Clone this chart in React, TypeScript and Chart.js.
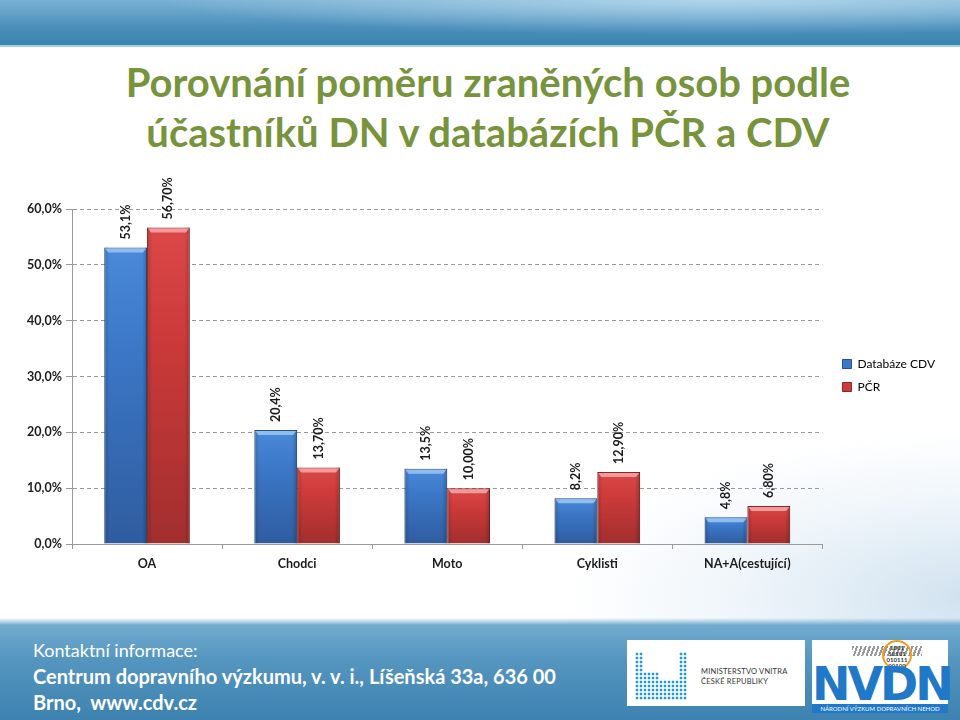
import React, { useEffect, useRef } from "react";
import { Chart, registerables } from "chart.js";

Chart.register(...registerables);

const categories = ["OA", "Chodci", "Moto", "Cyklisti", "NA+A(cestující)"];
const seriesNames = ["Databáze CDV", "PČR"];
const cdvValues = [53.1, 20.4, 13.5, 8.2, 4.8];
const pcrValues = [56.7, 13.7, 10.0, 12.9, 6.8];
const cdvLabels = ["53,1%", "20,4%", "13,5%", "8,2%", "4,8%"];
const pcrLabels = ["56,70%", "13,70%", "10,00%", "12,90%", "6,80%"];
const yMax = 60;
const yStep = 10;

const FONT = "Lato, 'Open Sans', sans-serif";

const palettes = [
  { top: "#4a8ad9", mid: "#3b77c6", bottom: "#2f5c9f", border: "#2a4f86", bevel: "#8fbdf0", solid: "#3b78c8" },
  { top: "#dc4848", mid: "#cc3a3a", bottom: "#a22e2e", border: "#8a2626", bevel: "#f29a9a", solid: "#cc3b3b" },
];

function gradientFor(idx: number) {
  return (c: any) => {
    const p = palettes[idx];
    const chart = c.chart;
    const y = chart.scales && chart.scales.y;
    if (!y || c.type !== "data") return p.solid;
    const top = y.getPixelForValue(c.raw);
    const bottom = y.getPixelForValue(0);
    if (!isFinite(top) || !isFinite(bottom) || bottom - top < 1) return p.solid;
    const g = chart.ctx.createLinearGradient(0, top, 0, bottom);
    g.addColorStop(0, p.top);
    g.addColorStop(0.35, p.mid);
    g.addColorStop(1, p.bottom);
    return g;
  };
}

const legendShift = {
  id: "legendShift",
  afterLayout(chart: any) {
    if (chart.legend) {
      chart.legend.left += 9;
      chart.legend.right += 9;
      chart.legend.top -= 29;
      chart.legend.bottom -= 29;
    }
  },
};

const barDecor = {
  id: "barDecor",
  afterDatasetsDraw(chart: any) {
    const ctx = chart.ctx;
    const labelSets = [cdvLabels, pcrLabels];
    chart.data.datasets.forEach((_: any, di: number) => {
      const meta = chart.getDatasetMeta(di);
      const p = palettes[di];
      meta.data.forEach((el: any, i: number) => {
        const { x, y, base, width } = el.getProps(["x", "y", "base", "width"], true);
        const l = x - width / 2;
        const r = x + width / 2;
        ctx.save();
        const sg = ctx.createLinearGradient(l, 0, r, 0);
        sg.addColorStop(0, "rgba(0,0,0,0.18)");
        sg.addColorStop(0.12, "rgba(0,0,0,0)");
        sg.addColorStop(0.88, "rgba(0,0,0,0)");
        sg.addColorStop(1, "rgba(0,0,0,0.22)");
        ctx.fillStyle = sg;
        ctx.fillRect(l, y, width, base - y);
        ctx.beginPath();
        ctx.moveTo(l + 1, y + 1);
        ctx.lineTo(r - 1, y + 1);
        ctx.lineTo(r - 4, y + 5);
        ctx.lineTo(l + 4, y + 5);
        ctx.closePath();
        ctx.fillStyle = p.bevel;
        ctx.fill();
        ctx.restore();

        ctx.save();
        ctx.translate(x, y - 8);
        ctx.rotate(-Math.PI / 2);
        ctx.font = `bold 12.5px ${FONT}`;
        ctx.fillStyle = "#1c1c1c";
        ctx.textAlign = "left";
        ctx.textBaseline = "middle";
        ctx.fillText(labelSets[di][i], 0, 0);
        ctx.restore();
      });
    });
  },
};

function ChartBox() {
  const ref = useRef<HTMLCanvasElement | null>(null);
  useEffect(() => {
    if (!ref.current) return;
    const chart = new Chart(ref.current, {
      type: "bar",
      data: {
        labels: categories,
        datasets: [
          {
            label: seriesNames[0],
            data: cdvValues,
            backgroundColor: gradientFor(0),
            borderColor: palettes[0].border,
            borderWidth: 1,
            categoryPercentage: 0.57,
            barPercentage: 1,
          },
          {
            label: seriesNames[1],
            data: pcrValues,
            backgroundColor: gradientFor(1),
            borderColor: palettes[1].border,
            borderWidth: 1,
            categoryPercentage: 0.57,
            barPercentage: 1,
          },
        ],
      },
      options: {
        animation: false,
        responsive: true,
        maintainAspectRatio: false,
        layout: { padding: { top: 39, right: 24, bottom: 0, left: 0 } },
        plugins: {
          tooltip: { enabled: false },
          title: { display: false },
          legend: {
            position: "right",
            align: "center",
            labels: {
              boxWidth: 9,
              boxHeight: 9,
              padding: 11,
              color: "#222",
              font: { family: FONT, size: 12 },
              generateLabels: () =>
                seriesNames.map((n, i) => ({
                  text: n,
                  fillStyle: palettes[i].solid,
                  strokeStyle: palettes[i].border,
                  lineWidth: 1,
                  datasetIndex: i,
                  hidden: false,
                })),
            },
          },
        },
        scales: {
          x: {
            afterFit: (s: any) => {
              s.height = 56;
            },
            grid: {
              offset: true,
              drawOnChartArea: false,
              drawTicks: true,
              tickLength: 5,
              color: "#9a9a9a",
            },
            border: { display: true, color: "#9a9a9a", width: 1 },
            ticks: {
              color: "#1c1c1c",
              padding: 7,
              font: { family: FONT, size: 12.5, weight: "bold" },
            },
          },
          y: {
            min: 0,
            max: yMax,
            afterFit: (s: any) => {
              s.width = 72;
            },
            grid: {
              color: "#9a9a9a",
              lineWidth: 1,
              tickLength: 6,
              tickColor: "#9a9a9a",
            },
            border: { display: true, color: "#9a9a9a", width: 1, dash: [4, 3] },
            ticks: {
              stepSize: yStep,
              padding: 4,
              color: "#1c1c1c",
              font: { family: FONT, size: 12.5, weight: "bold" },
              callback: (v: any) => Number(v).toFixed(1).replace(".", ",") + "%",
            },
          },
        },
      },
      plugins: [barDecor, legendShift],
    });
    return () => chart.destroy();
  }, []);
  return (
    <div style={{ position: "absolute", left: 0, top: 170, width: 960, height: 430 }}>
      <canvas ref={ref} />
    </div>
  );
}

function Dots({ left, top, cols, rows }: { left: number; top: number; cols: number; rows: number }) {
  return (
    <div
      style={{
        position: "absolute",
        left,
        top,
        width: cols * 4,
        height: rows * 4,
        backgroundImage: "radial-gradient(circle, #1e9ad6 1.2px, transparent 1.7px)",
        backgroundSize: "4px 4px",
      }}
    />
  );
}

export default function App() {
  return (
    <div
      style={{
        position: "fixed",
        left: 0,
        top: 0,
        width: 960,
        height: 720,
        overflow: "hidden",
        background: "#ffffff",
        fontFamily: FONT,
      }}
    >
      <div
        style={{
          position: "absolute",
          left: 560,
          top: 430,
          width: 520,
          height: 240,
          background:
            "radial-gradient(ellipse at 80% 70%, rgba(150,190,220,0.45) 0%, rgba(190,215,235,0.25) 40%, rgba(255,255,255,0) 70%)",
        }}
      />
      <div
        style={{
          position: "absolute",
          left: 0,
          top: 0,
          width: 960,
          height: 45,
          background:
            "radial-gradient(ellipse at 75% 0%, rgba(200,228,245,0.7) 0%, rgba(200,228,245,0) 55%), linear-gradient(to bottom, #7ab1d3 0%, #4b8fbb 60%, #3a84b2 100%)",
          borderBottom: "2px solid #a9cde3",
        }}
      />
      <div
        style={{
          position: "absolute",
          left: 0,
          top: 57,
          width: 960,
          textAlign: "center",
          color: "#77933c",
          fontWeight: 700,
          fontSize: 40,
          lineHeight: "50px",
          transform: "translateX(8px)",
        }}
      >
        Porovnání poměru zraněných osob podle
        <br />
        účastníků DN v databázích PČR a CDV
      </div>

      <ChartBox />

      <div
        style={{
          position: "absolute",
          left: 0,
          top: 618,
          width: 960,
          height: 102,
          background:
            "linear-gradient(to bottom, rgba(120,170,205,0.0) 0%, #72abcf 7%, #5596c0 40%, #3d82b0 100%)",
        }}
      />
      <div
        style={{
          position: "absolute",
          left: 33,
          top: 637,
          color: "#ffffff",
          lineHeight: "26px",
          whiteSpace: "nowrap",
        }}
      >
        <div style={{ fontSize: 18 }}>Kontaktní informace:</div>
        <div style={{ fontSize: 20, fontWeight: 700 }}>
          Centrum dopravního výzkumu, v. v.  i., Líšeňská 33a, 636 00
        </div>
        <div style={{ fontSize: 20, fontWeight: 700, whiteSpace: "pre" }}>Brno,  www.cdv.cz</div>
      </div>

      <div style={{ position: "absolute", left: 627, top: 640, width: 178, height: 66, background: "#ffffff" }}>
        <Dots left={8} top={12} cols={2} rows={12} />
        <Dots left={16} top={32} cols={4} rows={7} />
        <Dots left={32} top={40} cols={5} rows={5} />
        <Dots left={52} top={12} cols={2} rows={12} />
        <div
          style={{
            position: "absolute",
            left: 74,
            top: 27,
            fontSize: 7.5,
            lineHeight: "10px",
            color: "#333",
            letterSpacing: 0.2,
          }}
        >
          MINISTERSTVO VNITRA
          <br />
          ČESKÉ REPUBLIKY
        </div>
      </div>

      <div style={{ position: "absolute", left: 812, top: 640, width: 136, height: 73, background: "#ffffff" }}>
        <div
          style={{
            position: "absolute",
            left: 40,
            top: 6,
            width: 70,
            height: 10,
            backgroundImage: "repeating-linear-gradient(110deg, #555 0 2px, transparent 2px 4px)",
            opacity: 0.6,
          }}
        />
        <div
          style={{
            position: "absolute",
            left: 70,
            top: 0,
            width: 30,
            height: 30,
            borderRadius: "50%",
            border: "2px solid #f39a1e",
            fontSize: 6,
            lineHeight: "6px",
            color: "#333",
            textAlign: "center",
            fontWeight: 700,
            paddingTop: 3,
            boxSizing: "border-box",
          }}
        >
          1001
          <br />
          10101
          <br />
          010111
          <br />
          00100
        </div>
        <div
          style={{
            position: "absolute",
            left: 0,
            top: 24,
            width: 136,
            textAlign: "center",
            fontSize: 46,
            lineHeight: "40px",
            fontWeight: 900,
            color: "#1f78c8",
            fontFamily: "'DejaVu Sans', sans-serif",
            letterSpacing: -3,
          }}
        >
          NVDN
        </div>
        <div
          style={{
            position: "absolute",
            left: 0,
            top: 64,
            width: 136,
            height: 9,
            background: "#1f78c8",
            color: "#ffffff",
            fontSize: 6,
            lineHeight: "9px",
            textAlign: "center",
            whiteSpace: "nowrap",
            overflow: "hidden",
          }}
        >
          NÁRODNÍ VÝZKUM DOPRAVNÍCH NEHOD
        </div>
      </div>
    </div>
  );
}
